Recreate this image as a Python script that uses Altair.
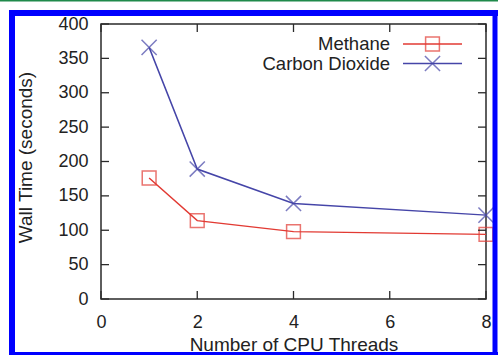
import altair as alt
import pandas as pd

# ---- data ----
threads = [1, 2, 4, 8]
methane = [176, 114, 98, 94]
co2 = [366, 189, 139, 122]
series_names = ["Methane", "Carbon Dioxide"]
series_colors = ["#e23a33", "#4545a8"]
x_ticks = [0, 2, 4, 6, 8]
y_ticks = [0, 50, 100, 150, 200, 250, 300, 350, 400]

W, H = 385, 275
FONT = "Liberation Sans"
TXT = "#222222"
FRAME = "#2a2a2a"
XPATH = "M-1,-1L1,1M-1,1L1,-1"

df = pd.DataFrame({
    "threads": threads * 2,
    "time": methane + co2,
    "series": [series_names[0]] * len(threads) + [series_names[1]] * len(threads),
})

xs = alt.Scale(domain=[0, 8], nice=False)
ys = alt.Scale(domain=[0, 400], nice=False)
cs = alt.Scale(domain=series_names, range=series_colors)

x_axis = alt.Axis(values=x_ticks, format="d", title="Number of CPU Threads",
                  grid=False, domain=False, ticks=False, tickSize=0,
                  labelPadding=28, labelBaseline="alphabetic", labelFlush=False,
                  labelFont=FONT, labelFontSize=18, labelColor=TXT,
                  titleFont=FONT, titleFontSize=19, titleColor=TXT,
                  titleFontWeight="normal", titleY=51, titleBaseline="alphabetic")
y_axis = alt.Axis(values=y_ticks, format="d", title="Wall Time (seconds)",
                  grid=False, domain=False, ticks=False, tickSize=0,
                  labelPadding=13, labelFlush=False,
                  labelFont=FONT, labelFontSize=18, labelColor=TXT,
                  titleFont=FONT, titleFontSize=19, titleColor=TXT,
                  titleFontWeight="normal", titleAngle=270, titleX=-70, titleY=133,
                  titleAlign="center", titleBaseline="alphabetic")


def X(field="threads"):
    return alt.X(f"{field}:Q", scale=xs, axis=x_axis)


def Y(field="time"):
    return alt.Y(f"{field}:Q", scale=ys, axis=y_axis)


base = alt.Chart(df)
lines = base.mark_line(strokeWidth=1.5).encode(
    x=X(), y=Y(),
    color=alt.Color("series:N", scale=cs, legend=None),
)

shapes = ["square", XPATH]
sizes = [190, 230]
layers = [lines]
for i, name in enumerate(series_names):
    pts = base.transform_filter(alt.datum.series == name).mark_point(
        shape=shapes[i], size=sizes[i], filled=False, strokeWidth=1.5
    ).encode(
        x=X(), y=Y(),
        color=alt.Color("series:N", scale=cs, legend=None),
    )
    layers.append(pts)

# ---- inward ticks on all four sides ----
ytdf = pd.DataFrame({"time": y_ticks})
xtdf = pd.DataFrame({"threads": x_ticks})
TL = 8
for x0, x1 in [(0, TL), (W - TL, W)]:
    layers.append(alt.Chart(ytdf).mark_rule(color=FRAME, strokeWidth=1.3).encode(
        y=Y(), x=alt.value(x0), x2=alt.value(x1)))
for y0, y1 in [(H, H - TL), (0, TL)]:
    layers.append(alt.Chart(xtdf).mark_rule(color=FRAME, strokeWidth=1.3).encode(
        x=X(), y=alt.value(y0), y2=alt.value(y1)))

# ---- manual gnuplot-style legend (text left of sample) ----
leg_line_y = [20, 39.5]
leg_text_y = [26, 45.5]
for i, name in enumerate(series_names):
    ldf = pd.DataFrame({"series": [name]})
    lc = alt.Chart(ldf)
    layers.append(lc.mark_text(align="right", baseline="alphabetic", font=FONT,
                               fontSize=18.5, color=TXT).encode(
        text="series:N", x=alt.value(289), y=alt.value(leg_text_y[i])))
    layers.append(lc.mark_rule(strokeWidth=1.5).encode(
        x=alt.value(302), x2=alt.value(361), y=alt.value(leg_line_y[i]),
        color=alt.Color("series:N", scale=cs, legend=None)))
    layers.append(lc.mark_point(shape=shapes[i], size=sizes[i], filled=False,
                                strokeWidth=1.5).encode(
        x=alt.value(331.5), y=alt.value(leg_line_y[i]),
        color=alt.Color("series:N", scale=cs, legend=None)))

# ---- decorative page border (blue frame, green line at top) ----
one = pd.DataFrame({"k": [0]})
deco = [
    ("#1f8a4a", 1.5, dict(x=alt.value(-101), x2=alt.value(397), y=alt.value(-23.25))),
    ("#0000ff", 6, dict(x=alt.value(-92), x2=alt.value(397), y=alt.value(-11))),
    ("#0000ff", 6, dict(y=alt.value(-14), y2=alt.value(331), x=alt.value(-89))),
    ("#0000ff", 5, dict(y=alt.value(-14), y2=alt.value(331), x=alt.value(394))),
    ("#0000ff", 3, dict(x=alt.value(-92), x2=alt.value(397), y=alt.value(329.5))),
]
for col, sw, enc in deco:
    layers.append(alt.Chart(one).mark_rule(color=col, strokeWidth=sw).encode(**enc))

chart = alt.layer(*layers).properties(
    width=W, height=H,
    padding={"left": 101, "top": 24, "right": 12, "bottom": 56},
    autosize=alt.AutoSizeParams(type="none"),
).configure(background="white").configure_view(stroke=FRAME, strokeWidth=1.5)

chart.save("out.html", embed_options={"renderer": "svg", "actions": False})
